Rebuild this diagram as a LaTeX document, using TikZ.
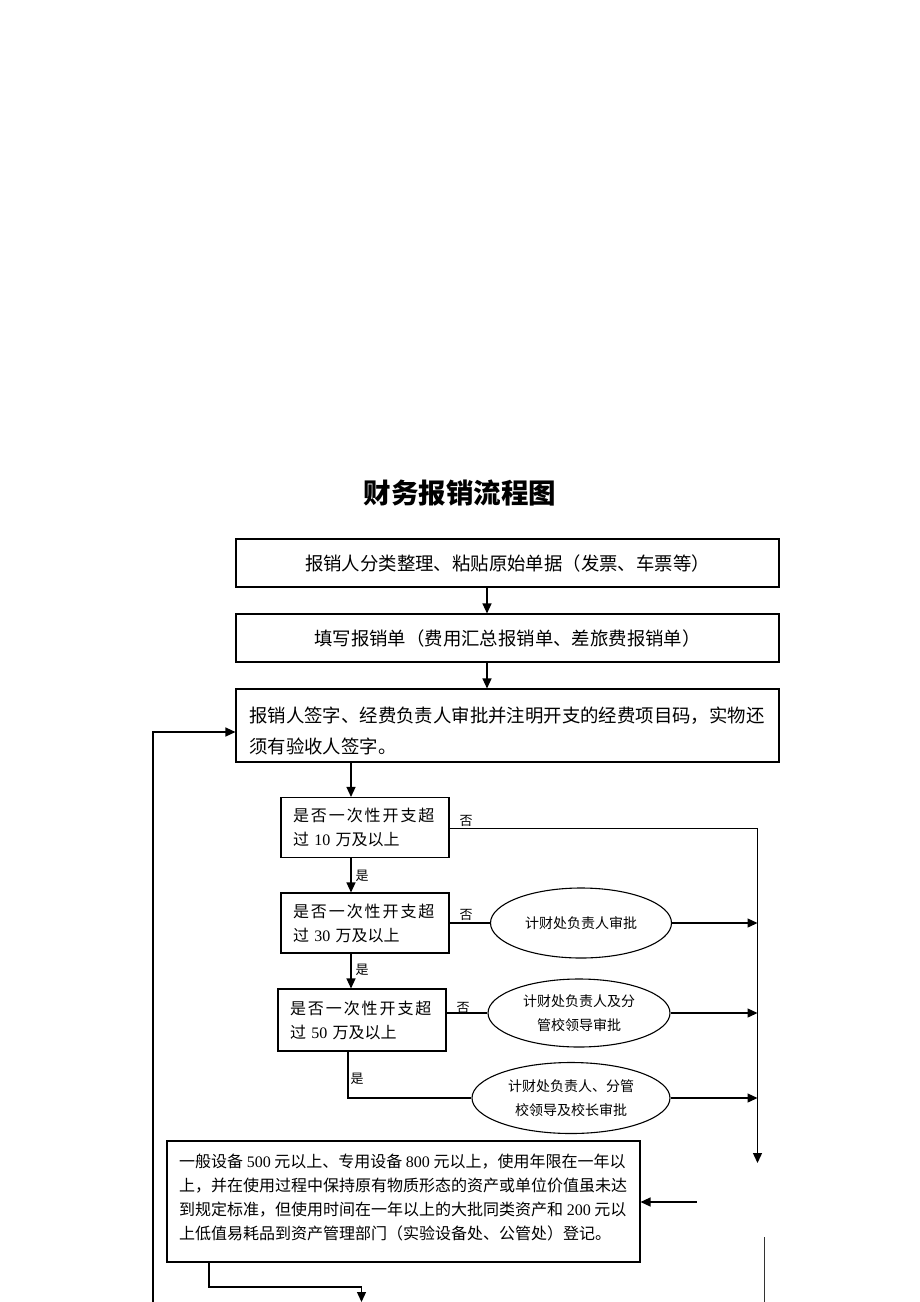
\documentclass[tikz,border=0pt]{standalone}
\usepackage{fontspec}
\setmainfont{Liberation Serif}
\newfontfamily\cjk{Noto Sans CJK SC}
\usetikzlibrary{arrows.meta,shapes.geometric}
\begin{document}
\begin{tikzpicture}[x=1pt,y=-1pt,
  box/.style={draw, line width=1.1pt, rectangle, inner sep=0pt},
  ell/.style={draw, line width=1.1pt, ellipse, inner sep=0pt, align=center, font=\cjk\fontsize{14}{24.5}\selectfont},
  conn/.style={line width=1.3pt},
  arr/.style={conn,-{Triangle[length=10pt,width=9pt]}},
  lab/.style={font=\cjk\fontsize{13}{13}\selectfont, inner sep=0pt},
  big/.style={font=\cjk\fontsize{18.4}{31}\selectfont},
  dec/.style={box, minimum width=168pt, minimum height=60pt, text width=144pt, inner xsep=12pt, align=left, font=\cjk\fontsize{16}{24}\selectfont},
  faint/.style={line width=1.3pt, draw=black!80},
]
\useasboundingbox (0,0) rectangle (920,1302);

% title
\node[font=\cjk\bfseries\fontsize{27.5}{30}\selectfont] (title) at (460,493) {财务报销流程图};

% top boxes
\node[box, big, minimum width=543pt, minimum height=48pt] (b1) at (507.5,563) {报销人分类整理、粘贴原始单据（发票、车票等）};
\node[box, big, minimum width=543pt, minimum height=48pt] (b2) at (507.5,638) {填写报销单（费用汇总报销单、差旅费报销单）};
\node[box, minimum width=543pt, minimum height=73pt] (b3) at (507.5,725.5) {};
\node[big, align=left, anchor=west, inner sep=0pt] (t3) at (249,730.5) {报销人签字、经费负责人审批并注明开支的经费项目码，实物还\\须有验收人签字。};

% decisions
\node[dec] (d1) at (365,827.5) {{\addfontfeature{LetterSpace=12}是否一次性开支超}\\过 \textrm{10} 万及以上};
\node[dec] (d2) at (365,923) {{\addfontfeature{LetterSpace=12}是否一次性开支超}\\过 \textrm{30} 万及以上};
\node[dec, minimum height=62pt] (d3) at (362,1020) {{\addfontfeature{LetterSpace=12}是否一次性开支超}\\过 \textrm{50} 万及以上};

% ellipses
\node[ell, minimum width=181pt, minimum height=70pt] (e1) at (581,923) {计财处负责人审批};
\node[ell, minimum width=182pt, minimum height=68pt] (e2) at (579,1013) {计财处负责人及分\\管校领导审批};
\node[ell, minimum width=198pt, minimum height=71pt] (e3) at (571,1098) {计财处负责人、分管\\校领导及校长审批};

% labels
\node[lab] (n1) at (466,821) {否};
\node[lab] (y1) at (362,876) {是};
\node[lab] (n2) at (466,915) {否};
\node[lab] (y2) at (362,970) {是};
\node[lab] (n3) at (463,1008) {否};
\node[lab] (y3) at (357,1079) {是};

% bottom box
\node[box, minimum width=473pt, minimum height=121pt] (b4) at (403.5,1201.5) {};
\node[font=\cjk\fontsize{16}{24}\selectfont, align=left, anchor=west, inner sep=0pt] (t4) at (179,1197.5) {一般设备 \textrm{500} 元以上、专用设备 \textrm{800} 元以上，使用年限在一年以\\上，并在使用过程中保持原有物质形态的资产或单位价值虽未达\\到规定标准，但使用时间在一年以上的大批同类资产和 \textrm{200} 元以\\上低值易耗品到资产管理部门（实验设备处、公管处）登记。};

% helper coordinates
\coordinate (cx1) at (487,0);
\coordinate (cx2) at (351,0);
\coordinate (c348) at (348,0);
\coordinate (rtop) at (757.5,828.5);
\coordinate (rbot) at (757.5,1163);
\coordinate (in4) at (696.5,1202);
\coordinate (g1) at (764.5,1237);
\coordinate (g2) at (764.5,1302);
\coordinate (c209) at (209,0);
\coordinate (bt) at (361.5,1287);
\coordinate (bt2) at (361.5,1302);
\coordinate (lb) at (153,1302);
\coordinate (fb) at (153,732);

% connectors
\draw[arr] (b1.south -| cx1) -- (b2.north -| cx1);
\draw[arr] (b2.south -| cx1) -- (b3.north -| cx1);
\draw[arr] (b3.south -| cx2) -- (d1.north -| cx2);
\draw[arr] (d1.south -| cx2) -- (d2.north -| cx2);
\draw[arr] (d2.south -| cx2) -- (d3.north -| cx2);

\draw[arr] (d1.east |- rtop) -- (rtop) -- (rbot);
\draw[conn] (d2.east) -- (e1.west);
\draw[arr] (e1.east) -- (e1.east -| rtop);
\draw[conn] (d3.east |- e2.west) -- (e2.west);
\draw[arr] (e2.east) -- (e2.east -| rtop);
\draw[conn] (d3.south -| c348) -- (c348 |- e3.west) -- (e3.west);
\draw[arr] (e3.east) -- (e3.east -| rtop);

\draw[arr] (in4) -- (b4.east |- in4);
\draw[faint] (g1) -- (g2);
\draw[arr] (b4.south -| c209) -- (c209 |- bt) -- (bt) -- (bt2);
\draw[arr] (lb) -- (fb) -- (fb -| b3.west);
\end{tikzpicture}
\end{document}
